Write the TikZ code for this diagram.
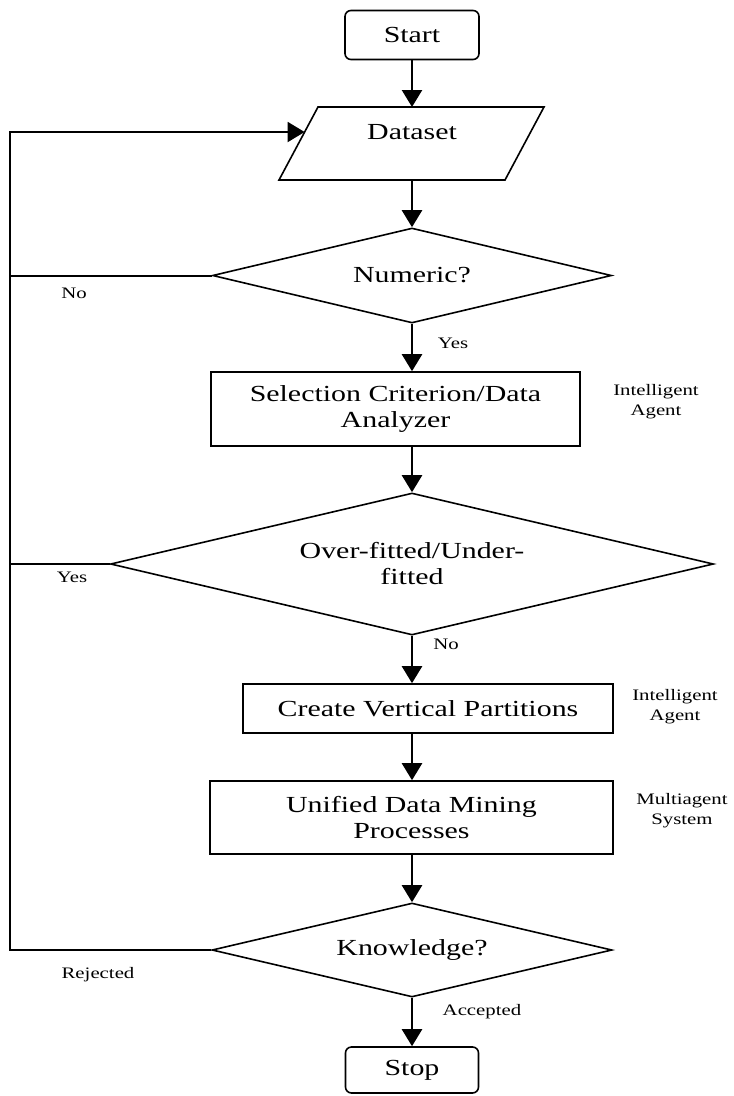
\documentclass[tikz,border=0pt]{standalone}
\usepackage{fontspec}
\setmainfont{Liberation Serif}[FakeStretch=1.3]
\usetikzlibrary{shapes.geometric,arrows.meta}
\begin{document}
\begin{tikzpicture}[x=1pt,y=-1pt,
  mainfont/.style={font=\fontsize{23}{26}\selectfont},
  lab/.style={font=\fontsize{16}{20}\selectfont, align=center, inner sep=0},
  term/.style={draw, rounded corners=6pt, line width=1.6pt, minimum width=134pt, minimum height=49pt, inner sep=0, mainfont},
  proc/.style={draw, line width=1.6pt, inner sep=0, mainfont, align=center},
  dec/.style={draw, diamond, line width=1.6pt, inner sep=0, mainfont, align=center, aspect=4.2},
  arr/.style={line width=2.4pt, -{Triangle[length=17pt,width=20pt]}},
  ln/.style={line width=2pt}]
\useasboundingbox (0,0) rectangle (734,1096);

\node[term] (start) at (412,35) {Start};

\coordinate (p1) at (318,107);
\coordinate (p2) at (544,107);
\coordinate (p3) at (505,180);
\coordinate (p4) at (279,180);
\draw[line width=1.6pt] (p1) -- (p2) -- (p3) -- (p4) -- cycle;
\node[mainfont, inner sep=0] (data) at (412,132) {Dataset};
\coordinate (dtop) at (412,107);
\coordinate (dbot) at (412,180);
\coordinate (dleft) at (304.6,132);

\node[dec, minimum width=399pt, minimum height=95pt] (num) at (412,275.5) {Numeric?};
\node[proc, minimum width=369pt, minimum height=74pt] (sel) at (395.5,409) {Selection Criterion/Data\\Analyzer};
\node[dec, minimum width=603pt, minimum height=142pt] (fit) at (412,564) {Over-fitted/Under-\\fitted};
\node[proc, minimum width=370pt, minimum height=49pt] (cvp) at (428,708.5) {Create Vertical Partitions};
\node[proc, minimum width=403pt, minimum height=73pt] (udm) at (411.5,817.5) {Unified Data Mining\\Processes};
\node[dec, minimum width=400pt, minimum height=94pt] (kn) at (412,950) {Knowledge?};
\node[term, minimum width=133pt, minimum height=46pt] (stop) at (412,1070) {Stop};

\draw[arr] (start.south) -- (dtop);
\draw[arr] (dbot) -- (num.north);
\draw[arr] (num.south) -- (num.south |- sel.north);
\draw[arr] (num.south |- sel.south) -- (fit.north);
\draw[arr] (fit.south) -- (fit.south |- cvp.north);
\draw[arr] (fit.south |- cvp.south) -- (fit.south |- udm.north);
\draw[arr] (kn.north |- udm.south) -- (kn.north);
\draw[arr] (kn.south) -- (stop.north);

\coordinate (lx) at (10,0);
\draw[ln] (num.west) -- (num.west -| lx);
\draw[ln] (fit.west) -- (fit.west -| lx);
\draw[ln, -{Triangle[length=17pt,width=20pt]}] (kn.west) -- (kn.west -| lx) |- (dleft);

\node[lab] (lno1) at (74,293) {No};
\node[lab] (lyes1) at (453,343) {Yes};
\node[lab] (ia1) at (656,402) {Intelligent\\Agent};
\node[lab] (lyes2) at (72,577) {Yes};
\node[lab] (lno2) at (446,644) {No};
\node[lab] (ia2) at (675,707) {Intelligent\\Agent};
\node[lab] (mas) at (682,811) {Multiagent\\System};
\node[lab] (rej) at (98,975) {Rejected};
\node[lab] (acc) at (482,1012) {Accepted};
\end{tikzpicture}
\end{document}
